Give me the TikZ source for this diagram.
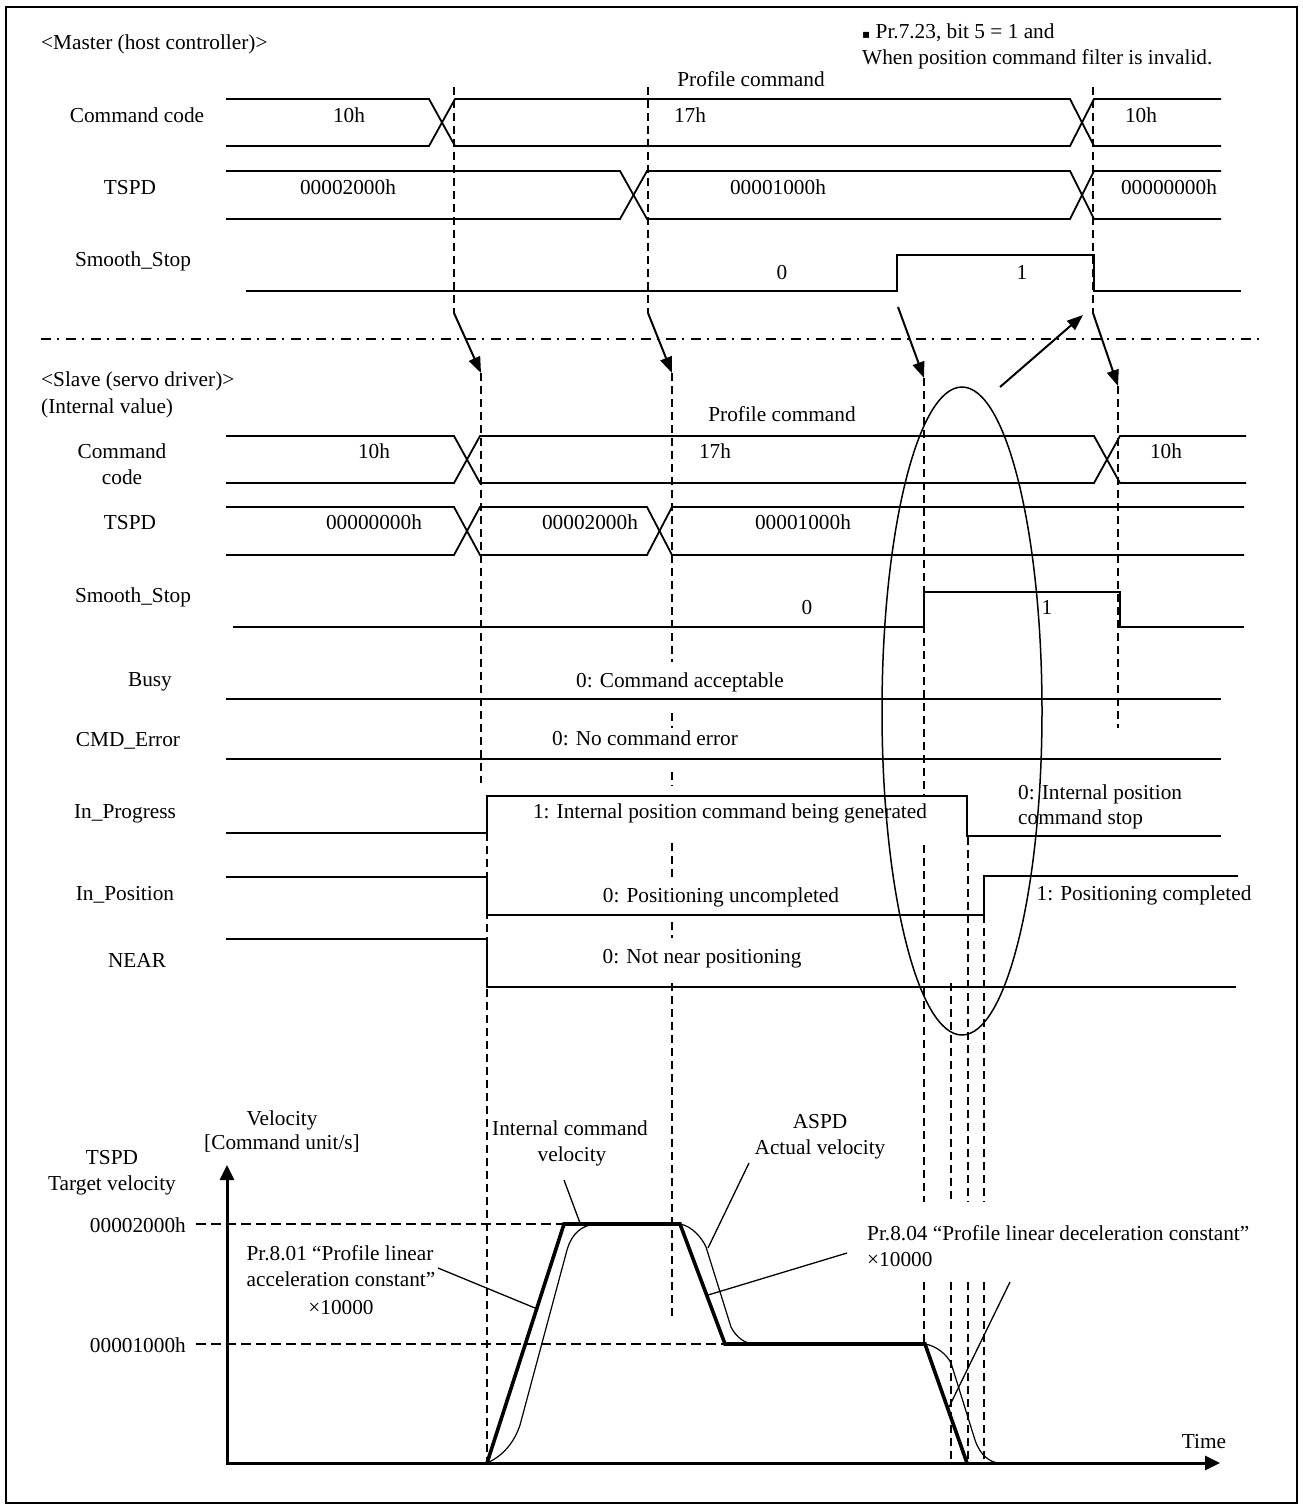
\documentclass[tikz,border=0pt]{standalone}
\usepackage{fontspec}
\setmainfont{Liberation Serif}
\newfontfamily\symfont{DejaVu Sans}
\usetikzlibrary{arrows.meta}
\tikzset{
  sig/.style={line width=1.8pt, line join=miter},
  vdash/.style={line width=1.5pt, dash pattern=on 8pt off 5pt},
  hdash/.style={line width=1.5pt, dash pattern=on 10pt off 5pt},
  sepline/.style={line width=1.8pt, dash pattern=on 10pt off 6pt on 2pt off 7pt},
  txt/.style={inner sep=0pt, text height=0.66em, text depth=0em, yshift=-3pt},
  arr/.style={line width=2pt, -{Triangle[length=16pt,width=12pt]}},
  leader/.style={line width=1.3pt},
  thickv/.style={line width=3.6pt, line join=miter},
  thinv/.style={line width=1.2pt},
  axis/.style={line width=3pt, {Triangle[length=15pt,width=14pt]}-{Triangle[length=15pt,width=14pt]}},
}
\begin{document}
\begin{tikzpicture}[x=1pt,y=-1pt,font=\fontsize{21.3pt}{26pt}\selectfont]
\useasboundingbox (0,0) rectangle (1302,1508);
\draw[line width=2.5pt] (6,7) rectangle (1297,1503);

% ---------------- Master ----------------
\node[txt,anchor=west] (mhead) at (41,43) {<Master (host controller)>};
\node[txt,anchor=west] (note1) at (862,32) {{\symfont\fontsize{12pt}{12pt}\selectfont ▪} Pr.7.23, bit 5 = 1 and};
\node[txt,anchor=west] (note2) at (862,58) {When position command filter is invalid.};
\node[txt] (mprof) at (751,80) {Profile command};

% master dashed lines
\draw[vdash] (454,87) -- (454,313);
\draw[vdash] (648,87) -- (648,313);
\draw[vdash] (1093,87) -- (1093,313);

% Command code
\node[txt] (mcclbl) at (137,116) {Command code};
\draw[sig] (226,99) -- (429,99) -- (455,146) -- (1070,146) -- (1094,99) -- (1221,99);
\draw[sig] (226,146) -- (429,146) -- (455,99) -- (1070,99) -- (1094,146) -- (1221,146);
\node[txt] (mcc1) at (349,116) {10h};
\node[txt] (mcc2) at (690,116) {17h};
\node[txt] (mcc3) at (1141,116) {10h};

% TSPD
\node[txt] (mtslbl) at (130,188) {TSPD};
\draw[sig] (226,171) -- (620,171) -- (647,219) -- (1070,219) -- (1094,171) -- (1221,171);
\draw[sig] (226,219) -- (620,219) -- (647,171) -- (1070,171) -- (1094,219) -- (1221,219);
\node[txt] (mts1) at (348,188) {00002000h};
\node[txt] (mts2) at (778,188) {00001000h};
\node[txt] (mts3) at (1169,188) {00000000h};

% Smooth_Stop
\node[txt] (msslbl) at (133,260) {Smooth\_Stop};
\draw[sig] (246,291) -- (897,291) -- (897,255) -- (1094,255) -- (1094,291) -- (1241,291);
\node[txt] (mss0) at (782,273) {0};
\node[txt] (mss1) at (1022,273) {1};

% separator
\draw[sepline] (41,339) -- (1263,339);

% arrows between master and slave
\coordinate (a1s) at (454,313); \coordinate (a1e) at (481,373);
\coordinate (a2s) at (648,313); \coordinate (a2e) at (672,373);
\coordinate (a3s) at (898,307); \coordinate (a3e) at (924,378);
\coordinate (a4s) at (1093,313); \coordinate (a4e) at (1118,386);
\coordinate (a5s) at (1000,387); \coordinate (a5e) at (1083,315);
\draw[arr] (a1s) -- (a1e);
\draw[arr] (a2s) -- (a2e);
\draw[arr] (a3s) -- (a3e);
\draw[arr] (a4s) -- (a4e);
\draw[arr] (a5s) -- (a5e);

% ---------------- Slave ----------------
\node[txt,anchor=west] (shead) at (41,380) {<Slave (servo driver)>};
\node[txt,anchor=west] (shead2) at (41,407) {(Internal value)};
\node[txt] (sprof) at (782,415) {Profile command};

% slave dashed lines
\draw[vdash] (481,373) -- (481,783);
\draw[vdash] (487,833) -- (487,1463);
\draw[vdash] (672,373) -- (672,662);
\draw[vdash] (672,713) -- (672,728);
\draw[vdash] (672,772) -- (672,786);
\draw[vdash] (672,843) -- (672,878);
\draw[vdash] (672,922) -- (672,938);
\draw[vdash] (672,983) -- (672,1320);
\draw[vdash] (924,378) -- (924,797);
\draw[vdash] (924,845) -- (924,1202);
\draw[vdash] (924,1282) -- (924,1343);
\draw[vdash] (1118,386) -- (1118,728);
\draw[vdash] (951,983) -- (951,1202);
\draw[vdash] (951,1282) -- (951,1463);
\draw[vdash] (968,837) -- (968,1202);
\draw[vdash] (968,1282) -- (968,1463);
\draw[vdash] (984,915) -- (984,1202);
\draw[vdash] (984,1282) -- (984,1463);

% Command code
\node[txt] (scclbl1) at (122,452) {Command};
\node[txt] (scclbl2) at (122,478) {code};
\draw[sig] (226,436) -- (454,436) -- (480,483) -- (1094,483) -- (1120,436) -- (1246,436);
\draw[sig] (226,483) -- (454,483) -- (480,436) -- (1094,436) -- (1120,483) -- (1246,483);
\node[txt] (scc1) at (374,452) {10h};
\node[txt] (scc2) at (715,452) {17h};
\node[txt] (scc3) at (1166,452) {10h};

% TSPD
\node[txt] (stslbl) at (130,523) {TSPD};
\draw[sig] (226,507) -- (454,507) -- (480,555) -- (647,555) -- (672,507) -- (1244,507);
\draw[sig] (226,555) -- (454,555) -- (480,507) -- (647,507) -- (672,555) -- (1244,555);
\node[txt] (sts1) at (374,523) {00000000h};
\node[txt] (sts2) at (590,523) {00002000h};
\node[txt] (sts3) at (803,523) {00001000h};

% Smooth_Stop
\node[txt] (ssslbl) at (133,596) {Smooth\_Stop};
\draw[sig] (233,627) -- (924,627) -- (924,592) -- (1120,592) -- (1120,627) -- (1244,627);
\node[txt] (sss0) at (807,608) {0};
\node[txt] (sss1) at (1047,608) {1};

% Busy
\node[txt] (busylbl) at (150,680) {Busy};
\draw[sig] (226,699) -- (1221,699);
\node[txt] (busyv) at (680,681) {0: Command acceptable};

% CMD_Error
\node[txt] (errlbl) at (128,740) {CMD\_Error};
\draw[sig] (226,759) -- (1221,759);
\node[txt] (errv) at (645,739) {0: No command error};

% In_Progress
\node[txt] (iprlbl) at (125,812) {In\_Progress};
\draw[sig] (226,833) -- (487,833) -- (487,796) -- (967,796) -- (967,836) -- (1221,836);
\node[txt] (iprv1) at (730,812) {1: Internal position command being generated};
\node[txt,anchor=west] (iprv0a) at (1018,793) {0: Internal position};
\node[txt,anchor=west] (iprv0b) at (1018,818) {command stop};

% In_Position
\node[txt] (iposlbl) at (125,894) {In\_Position};
\draw[sig] (226,877) -- (487,877) -- (487,915) -- (984,915) -- (984,876) -- (1238,876);
\node[txt] (iposv0) at (721,896) {0: Positioning uncompleted};
\node[txt] (iposv1) at (1144,894) {1: Positioning completed};

% NEAR
\node[txt] (nearlbl) at (137,961) {NEAR};
\draw[sig] (226,939) -- (487,939) -- (487,987) -- (1236,987);
\node[txt] (nearv) at (702,957) {0: Not near positioning};

% ellipse
\draw[line width=1.5pt] (962,711) ellipse [x radius=80, y radius=324];

% ---------------- Velocity graph ----------------
\node[txt] (vel1) at (282,1119) {Velocity};
\node[txt] (vel2) at (282,1143) {[Command unit/s]};
\node[txt] (tsp1) at (112,1158) {TSPD};
\node[txt] (tsp2) at (112,1184) {Target velocity};
\node[txt,anchor=east] (v2000) at (186,1226) {00002000h};
\node[txt,anchor=east] (v1000) at (186,1346) {00001000h};

\draw[hdash] (196,1224) -- (564,1224);
\draw[hdash] (196,1344) -- (725,1344);

\coordinate (ytip) at (227,1165);
\coordinate (orig) at (227,1463);
\coordinate (xtip) at (1220,1463);
\draw[axis] (ytip) -- (orig) -- (xtip);
\node[txt] (timelbl) at (1204,1442) {Time};

% internal command velocity
\draw[thickv] (487,1463) -- (564,1224) -- (680,1224) -- (725,1344) -- (925,1344) -- (967,1463);
% actual velocity
\draw[thinv] (487,1463) .. controls (505,1455) and (515,1440) .. (520,1425)
  -- (567,1250) .. controls (572,1233) and (582,1225) .. (596,1224)
  -- (680,1224) .. controls (692,1226) and (702,1238) .. (706,1247)
  -- (731,1327) .. controls (736,1337) and (745,1344) .. (755,1344)
  -- (925,1344) .. controls (937,1346) and (947,1355) .. (951,1363)
  -- (975,1440) .. controls (980,1455) and (990,1463) .. (1000,1463);

\node[txt] (icv1) at (570,1129) {Internal command};
\node[txt] (icv2) at (572,1155) {velocity};
\node[txt] (asp1) at (820,1122) {ASPD};
\node[txt] (asp2) at (820,1148) {Actual velocity};
\node[txt] (acc1) at (340,1254) {Pr.8.01 “Profile linear};
\node[txt] (acc2) at (341,1280) {acceleration constant”};
\node[txt] (acc3) at (341,1308) {×10000};
\node[txt,anchor=west] (dec1) at (867,1234) {Pr.8.04 “Profile linear deceleration constant”};
\node[txt,anchor=west] (dec2) at (867,1260) {×10000};

\coordinate (l1a) at (564,1180); \coordinate (l1b) at (580,1223);
\coordinate (l2a) at (749,1163); \coordinate (l2b) at (708,1248);
\coordinate (l3a) at (438,1268); \coordinate (l3b) at (535,1308);
\coordinate (l4a) at (847,1253); \coordinate (l4b) at (708,1295);
\coordinate (l5a) at (1010,1282); \coordinate (l5b) at (949,1407);
\draw[leader] (l1a) -- (l1b);
\draw[leader] (l2a) -- (l2b);
\draw[leader] (l3a) -- (l3b);
\draw[leader] (l4a) -- (l4b);
\draw[leader] (l5a) -- (l5b);
\end{tikzpicture}
\end{document}
